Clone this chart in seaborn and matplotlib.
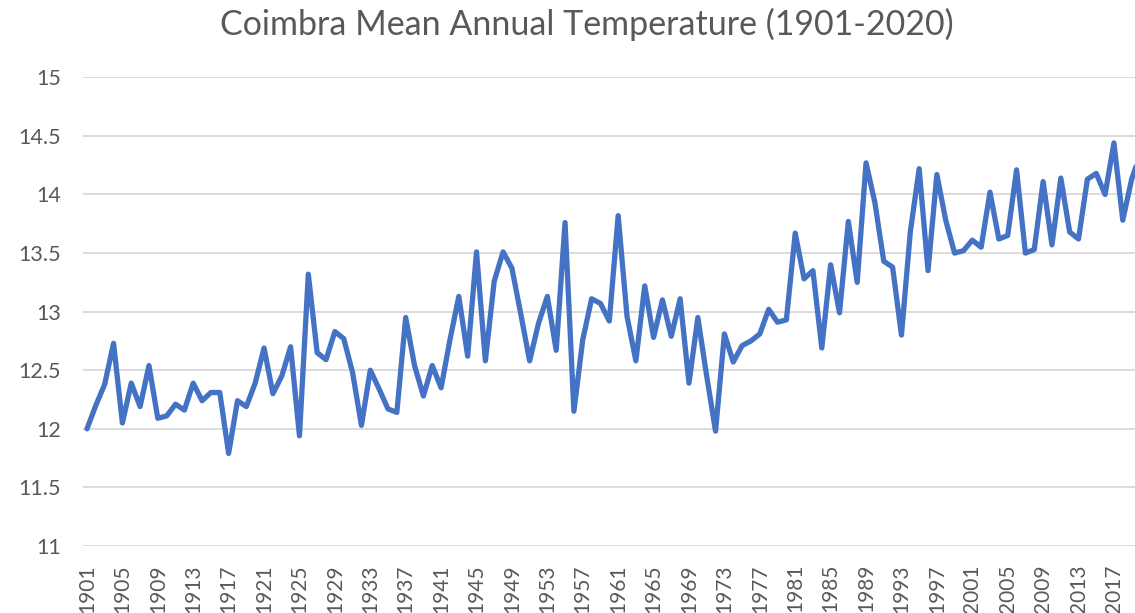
import matplotlib
matplotlib.use("Agg")
import matplotlib.pyplot as plt
import seaborn as sns
import pandas as pd
import numpy as np

years = list(range(1901, 2021))
temps = [
    12.00, 12.20, 12.38, 12.73, 12.05, 12.39, 12.19, 12.54, 12.09, 12.11,
    12.21, 12.16, 12.39, 12.24, 12.31, 12.31, 11.79, 12.24, 12.19, 12.39,
    12.69, 12.30, 12.45, 12.70, 11.94, 13.32, 12.65, 12.59, 12.83, 12.77,
    12.48, 12.03, 12.50, 12.34, 12.17, 12.14, 12.95, 12.54, 12.28, 12.54,
    12.35, 12.76, 13.13, 12.62, 13.51, 12.58, 13.26, 13.51, 13.37, 12.98,
    12.58, 12.90, 13.13, 12.67, 13.76, 12.15, 12.76, 13.11, 13.07, 12.92,
    13.82, 12.96, 12.58, 13.22, 12.78, 13.10, 12.79, 13.11, 12.39, 12.95,
    12.45, 11.98, 12.81, 12.57, 12.71, 12.75, 12.81, 13.02, 12.91, 12.93,
    13.67, 13.28, 13.35, 12.69, 13.40, 12.99, 13.77, 13.25, 14.27, 13.93,
    13.43, 13.38, 12.80, 13.68, 14.22, 13.35, 14.17, 13.78, 13.50, 13.52,
    13.61, 13.55, 14.02, 13.62, 13.65, 14.21, 13.50, 13.53, 14.11, 13.57,
    14.14, 13.68, 13.62, 14.13, 14.18, 14.00, 14.44, 13.78, 14.13, 14.35,
]
tick_years = list(range(1901, 2018, 4))
y_ticks = [11, 11.5, 12, 12.5, 13, 13.5, 14, 14.5, 15]
y_tick_labels = ["11", "11.5", "12", "12.5", "13", "13.5", "14", "14.5", "15"]
title = "Coimbra Mean Annual Temperature (1901-2020)"

df = pd.DataFrame({"year": years, "temp": temps})

sns.set_style("white")
plt.rcParams["font.family"] = ["Lato", "DejaVu Sans"]

W, H = 1135, 613
fig = plt.figure(figsize=(W / 100, H / 100), dpi=100)
ax = fig.add_axes([83 / W, 1 - 546 / H, 1 - 83 / W, (546 - 77.3) / H])

sns.lineplot(data=df, x="year", y="temp", ax=ax, color="#4472C4",
             linewidth=3.8, solid_joinstyle="round", solid_capstyle="round")

ax.set_xlim(1900.55, 2019.38)
ax.set_ylim(11, 15)
ax.set_yticks(y_ticks)
ax.set_yticklabels(y_tick_labels)
ax.set_xticks(tick_years)
ax.set_xticklabels([str(t) for t in tick_years], rotation=90)
ax.grid(axis="y", color="#D9D9D9", linewidth=1.3)
ax.set_axisbelow(True)
for s in ax.spines.values():
    s.set_visible(False)
ax.tick_params(axis="y", length=0, pad=16, labelsize=15.5, labelcolor="#595959")
ax.tick_params(axis="x", length=0, pad=13, labelsize=15, labelcolor="#595959")
ax.set_xlabel("")
ax.set_ylabel("")

fig.text(587 / W, 1 - 35 / H, title, ha="center", va="baseline",
         fontsize=24.5, color="#595959")

fig.savefig("out.png", dpi=100)
